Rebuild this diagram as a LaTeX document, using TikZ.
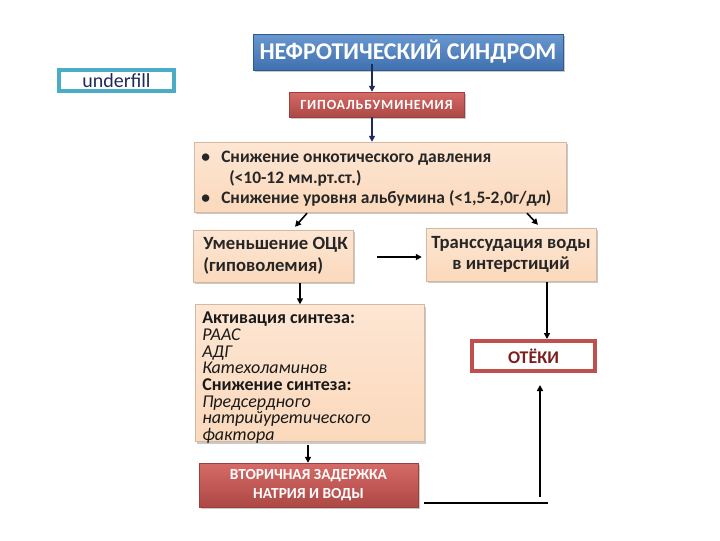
\documentclass[tikz,border=0pt]{standalone}
\usepackage{fontspec}
\setmainfont{Carlito}
\usetikzlibrary{calc,shadows,arrows.meta}
\definecolor{bluebox}{HTML}{3F70B0}
\definecolor{bluetop}{HTML}{6A97CF}
\definecolor{redbox}{HTML}{C0504D}
\definecolor{redtop}{HTML}{D66A66}
\definecolor{peach}{HTML}{FBD9BC}
\definecolor{peachtop}{HTML}{FDE6D3}
\definecolor{tealb}{HTML}{4BACC6}
\definecolor{navy}{HTML}{1F2A5C}
\definecolor{darkred}{HTML}{7B1E1E}
\tikzset{
  shad/.style={drop shadow={shadow xshift=1.5pt,shadow yshift=-1.5pt,opacity=0.35,fill=black!60}},
  bluebx/.style={shad,rectangle,top color=bluetop,bottom color=bluebox,draw=bluebox!80!black,line width=0.3pt,text=white,font=\bfseries,inner sep=0pt},
  redbx/.style={shad,rectangle,top color=redtop,bottom color=redbox!90!black,draw=redbox!80!black,line width=0.3pt,text=white,font=\bfseries,inner sep=0pt,align=center},
  peachbx/.style={shad,rectangle,top color=peachtop,bottom color=peach,draw=peach!85!black,line width=0.3pt,text=black!85,font=\bfseries,inner sep=0pt},
  framebx/.style={rectangle,fill=white,line width=3pt,inner sep=0pt},
  arr/.style={line width=1.2pt,-{Triangle[length=4.5pt,width=4.5pt]}},
  plain/.style={line width=1.2pt}
}
\begin{document}
\begin{tikzpicture}[x=0.75pt,y=-0.75pt]
\useasboundingbox[fill=white] (0,0) rectangle (720,540);
% nodes
\node[bluebx,minimum width=232.5pt,minimum height=27pt,font=\fontsize{18}{21}\selectfont\bfseries] (title) at (408,52) {НЕФРОТИЧЕСКИЙ СИНДРОМ};
\node[redbx,minimum width=131.25pt,minimum height=18.75pt,font=\fontsize{10.5}{12}\selectfont\bfseries\addfontfeatures{LetterSpace=6}] (hypo) at (376.5,104.5) {ГИПОАЛЬБУМИНЕМИЯ};
\node[peachbx,minimum width=279pt,minimum height=52.5pt] (peach) at (380,177) {};
\node[anchor=north west,font=\fontsize{13.1}{15.3}\selectfont\bfseries,text=black!85,align=left,inner sep=0pt] (ptext) at (201,151)
  {\makebox[15pt][l]{\textbullet}Снижение онкотического давления\\
   \hspace*{21pt}(<10-12 мм.рт.ст.)\\
   \makebox[15pt][l]{\textbullet}Снижение уровня альбумина (<1,5-2,0г/дл)};
\node[peachbx,minimum width=120pt,minimum height=39pt] (umen) at (273,256) {};
\node[anchor=west,font=\fontsize{14}{16.5}\selectfont\bfseries,text=black!85,align=left,inner sep=0pt] (utext) at (203,256)
  {Уменьшение ОЦК\\(гиповолемия)};
\node[peachbx,minimum width=127.5pt,minimum height=39.75pt,align=center,font=\fontsize{14}{16}\selectfont\bfseries] (trans) at (511,254.5)
  {Транссудация воды\\в интерстиций};
\node[peachbx,minimum width=171.75pt,minimum height=102.75pt] (akt) at (309.5,373) {};
\node[anchor=north west,font=\fontsize{13.5}{12.5}\selectfont,text=black!90,align=left,inner sep=0pt] (atext) at (202,312)
  {\textbf{Активация синтеза:}\\
   \textit{РААС}\\
   \textit{АДГ}\\
   \textit{Катехоламинов}\\
   \textbf{Снижение синтеза:}\\
   \textit{Предсердного}\\
   \textit{натрийуретического}\\
   \textit{фактора}};
\node[redbx,minimum width=164.25pt,minimum height=33pt,font=\fontsize{11.5}{14}\selectfont\bfseries] (vtor) at (308.5,485)
  {ВТОРИЧНАЯ ЗАДЕРЖКА\\НАТРИЯ И ВОДЫ};
\node[framebx,draw=redbox,minimum width=92.25pt,minimum height=22.5pt,text=darkred,font=\fontsize{13.4}{15}\selectfont\bfseries] (otek) at (533.5,356) {ОТЁКИ};
\node[framebx,draw=tealb,minimum width=86.25pt,minimum height=16pt,text=navy,font=\fontsize{15}{16}\selectfont] (under) at (116.5,80.5) {underfill};
% connector points
\coordinate (c1) at ($(title.south)+(-36,-6)$);
\coordinate (c2) at ($(hypo.south)+(-4.5,0)$);
\coordinate (c3) at ($(umen.south)+(27,1)$);
\coordinate (c4) at ($(trans.south)+(36,1)$);
\coordinate (c5) at ($(akt.south)+(-1.5,3)$);
\coordinate (c6) at ($(vtor.east)+(6,18)$);
\coordinate (c7) at ($(otek.south)+(6.5,124)$);
% connectors
\draw[arr,navy] (c1) -- (c1 |- hypo.north);
\draw[arr,navy] (c2) -- (c2 |- peach.north);
\draw[arr] ($(peach.south)+(-73,1)$) -- ($(umen.north)+(22,-3)$);
\draw[arr] ($(peach.south)+(147,1)$) -- ($(trans.north)+(27,-3)$);
\draw[arr] ($(umen.east)+(24,1)$) -- ($(trans.west)+(-4,2.5)$);
\draw[arr] (c3) -- (c3 |- akt.north);
\draw[arr] (c4) -- (c4 |- otek.north);
\draw[arr] (c5) -- (c5 |- vtor.north);
\draw[plain] (c6) -- ++(124,0);
\draw[arr] (c7) -- ($(otek.south)+(6.5,12)$);
\end{tikzpicture}
\end{document}
